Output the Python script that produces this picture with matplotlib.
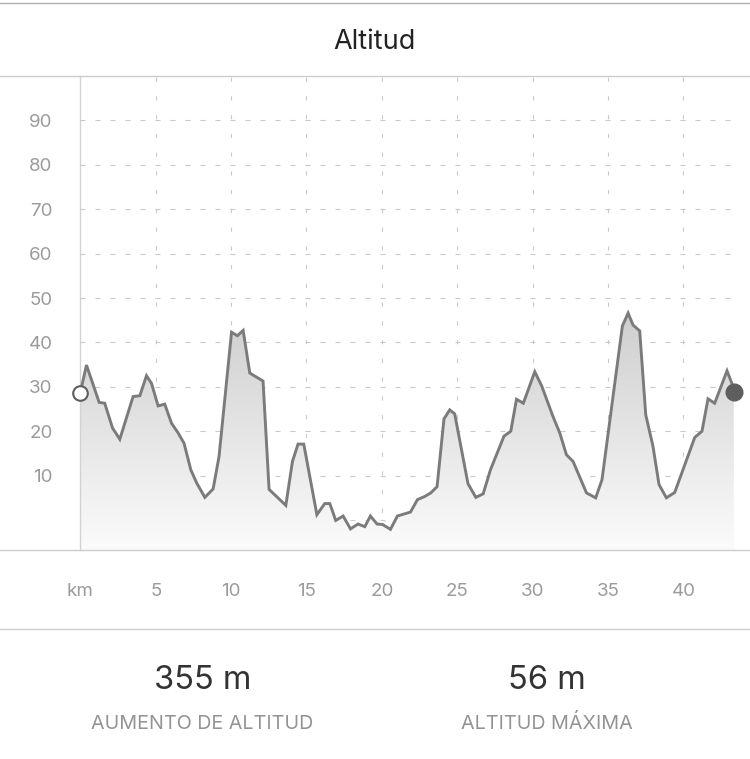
import numpy as np
import matplotlib
matplotlib.use("Agg")
import matplotlib.pyplot as plt
from matplotlib.lines import Line2D
from matplotlib.patches import Polygon

plt.rcParams['font.family'] = ['Inter', 'DejaVu Sans']
plt.rcParams['lines.scale_dashes'] = False

# ---- data ----
km = [0.00, 0.41, 1.25, 1.62, 2.14, 2.62, 3.50, 3.95, 4.39, 4.72, 5.16, 5.60,
      6.05, 6.49, 6.88, 7.33, 7.71, 8.26, 8.81, 9.20, 10.03, 10.42, 10.80,
      11.24, 12.12, 12.52, 13.63, 14.07, 14.44, 14.82, 15.69, 16.21, 16.55,
      16.94, 17.43, 17.92, 18.42, 18.87, 19.24, 19.68, 20.04, 20.57, 21.03,
      21.90, 22.36, 22.84, 23.24, 23.66, 24.12, 24.50, 24.83, 25.71, 26.23,
      26.72, 27.20, 28.10, 28.55, 28.93, 29.38, 30.14, 30.60, 31.35, 31.80,
      32.24, 32.68, 33.57, 34.18, 34.60, 35.95, 36.33, 36.66, 37.10, 37.50,
      37.98, 38.38, 38.87, 39.42, 40.75, 41.23, 41.63, 42.07, 42.89, 43.29,
      43.34]
altitude = [28.7, 34.9, 26.5, 26.3, 20.7, 18.2, 27.8, 28.0, 32.5, 30.8, 25.7,
            26.1, 21.8, 19.6, 17.3, 11.3, 8.4, 5.1, 7.0, 14.3, 42.3, 41.5,
            42.7, 33.1, 31.3, 6.9, 3.3, 13.2, 17.1, 17.1, 1.2, 3.7, 3.7, -0.1,
            0.9, -2.0, -0.9, -1.5, 0.9, -0.9, -1.0, -2.1, 0.9, 1.8, 4.6, 5.3,
            6.1, 7.5, 22.8, 24.8, 23.9, 8.2, 5.1, 5.9, 11.3, 18.9, 20.0, 27.2,
            26.3, 33.4, 30.2, 23.3, 19.6, 14.7, 13.2, 6.1, 5.0, 9.1, 43.7,
            46.6, 43.9, 42.6, 23.7, 16.6, 8.0, 5.0, 6.2, 18.6, 20.0, 27.3,
            26.3, 33.6, 30.1, 28.9]

x_ticks = [0, 5, 10, 15, 20, 25, 30, 35, 40]
x_tick_labels = ['km', '5', '10', '15', '20', '25', '30', '35', '40']
y_ticks = [10, 20, 30, 40, 50, 60, 70, 80, 90]
y_grid = [0, 10, 20, 30, 40, 50, 60, 70, 80, 90]

title = 'Altitud'
stat_values = ['355 m', '56 m']
stat_labels = ['AUMENTO DE ALTITUD', 'ALTITUD MÁXIMA']

# ---- figure ----
W, H = 750, 759
fig = plt.figure(figsize=(W / 100, H / 100), dpi=100)
fig.patch.set_facecolor('white')

def fy(py):
    return 1 - py / H

ax_l, ax_r, ax_t, ax_b = 80.3, 733.8, 76, 550
ax = fig.add_axes([ax_l / W, fy(ax_b), (ax_r - ax_l) / W, (ax_b - ax_t) / H])
ax.set_facecolor('none')
ymin, ymax = -6.75, 100
ax.set_xlim(km[0], km[-1])
ax.set_ylim(ymin, ymax)

for s in ['top', 'right', 'bottom']:
    ax.spines[s].set_visible(False)
ax.spines['left'].set_color('#d2d2d2')
ax.spines['left'].set_linewidth(1.0)

# grid
for yv in y_grid:
    ax.axhline(yv, color='#c9c9c9', lw=0.8, ls=(0, (3.6, 7.2)), zorder=1)
for xv in x_ticks[1:]:
    ax.axvline(xv, color='#c9c9c9', lw=0.8, ls=(0, (3.0, 10.5)), zorder=1)

# gradient fill
x = np.array(km)
y = np.array(altitude)
verts = np.column_stack([np.r_[x[0], x, x[-1]], np.r_[ymin, y, ymin]])
poly = Polygon(verts, closed=True, facecolor='none', edgecolor='none')
ax.add_patch(poly)
top_g = max(altitude)
grad = np.linspace(0, 1, 256).reshape(-1, 1)
c_top, c_bot = 0.81, 0.985
img = c_bot + (c_top - c_bot) * grad
im = ax.imshow(np.dstack([img, img, img]), extent=[x[0], x[-1], ymin, top_g],
               origin='lower', aspect='auto', zorder=2, interpolation='bicubic')
im.set_clip_path(poly)

ax.plot(x, y, color='#7b7b7b', lw=2.1, zorder=3, solid_joinstyle='miter')
ax.plot([x[0]], [y[0]], marker='o', ms=10.5, mfc='white', mec='#5e5e5e', mew=1.5,
        zorder=4, clip_on=False)
ax.plot([x[-1]], [y[-1]], marker='o', ms=12, mfc='#5e5e5e', mec='#5e5e5e',
        zorder=4, clip_on=False)

ax.set_xticks(x_ticks, x_tick_labels)
ax.set_yticks(y_ticks, [str(v) for v in y_ticks])
ax.tick_params(axis='both', length=0, labelcolor='#9b9b9b', labelsize=13.5)
ax.tick_params(axis='x', pad=24)
ax.tick_params(axis='y', pad=20)

# separator lines
for py, col in [(2.5, '#b0b0b0'), (75.5, '#cccccc'), (550, '#cccccc'), (629, '#cccccc')]:
    fig.add_artist(Line2D([0, 1], [fy(py), fy(py)], color=col, lw=1.0,
                          transform=fig.transFigure))

# texts
fig.text(0.5, fy(49), title, ha='center', va='baseline', fontsize=19.5,
         color='#222222')
for cx, val, lab in zip([202.5, 547], stat_values, stat_labels):
    fig.text(cx / W, fy(689), val, ha='center', va='baseline', fontsize=23.5,
             color='#333333')
    fig.text(cx / W, fy(729), lab, ha='center', va='baseline', fontsize=14.2,
             color='#939393')

fig.savefig('out.png', dpi=100, facecolor='white')
